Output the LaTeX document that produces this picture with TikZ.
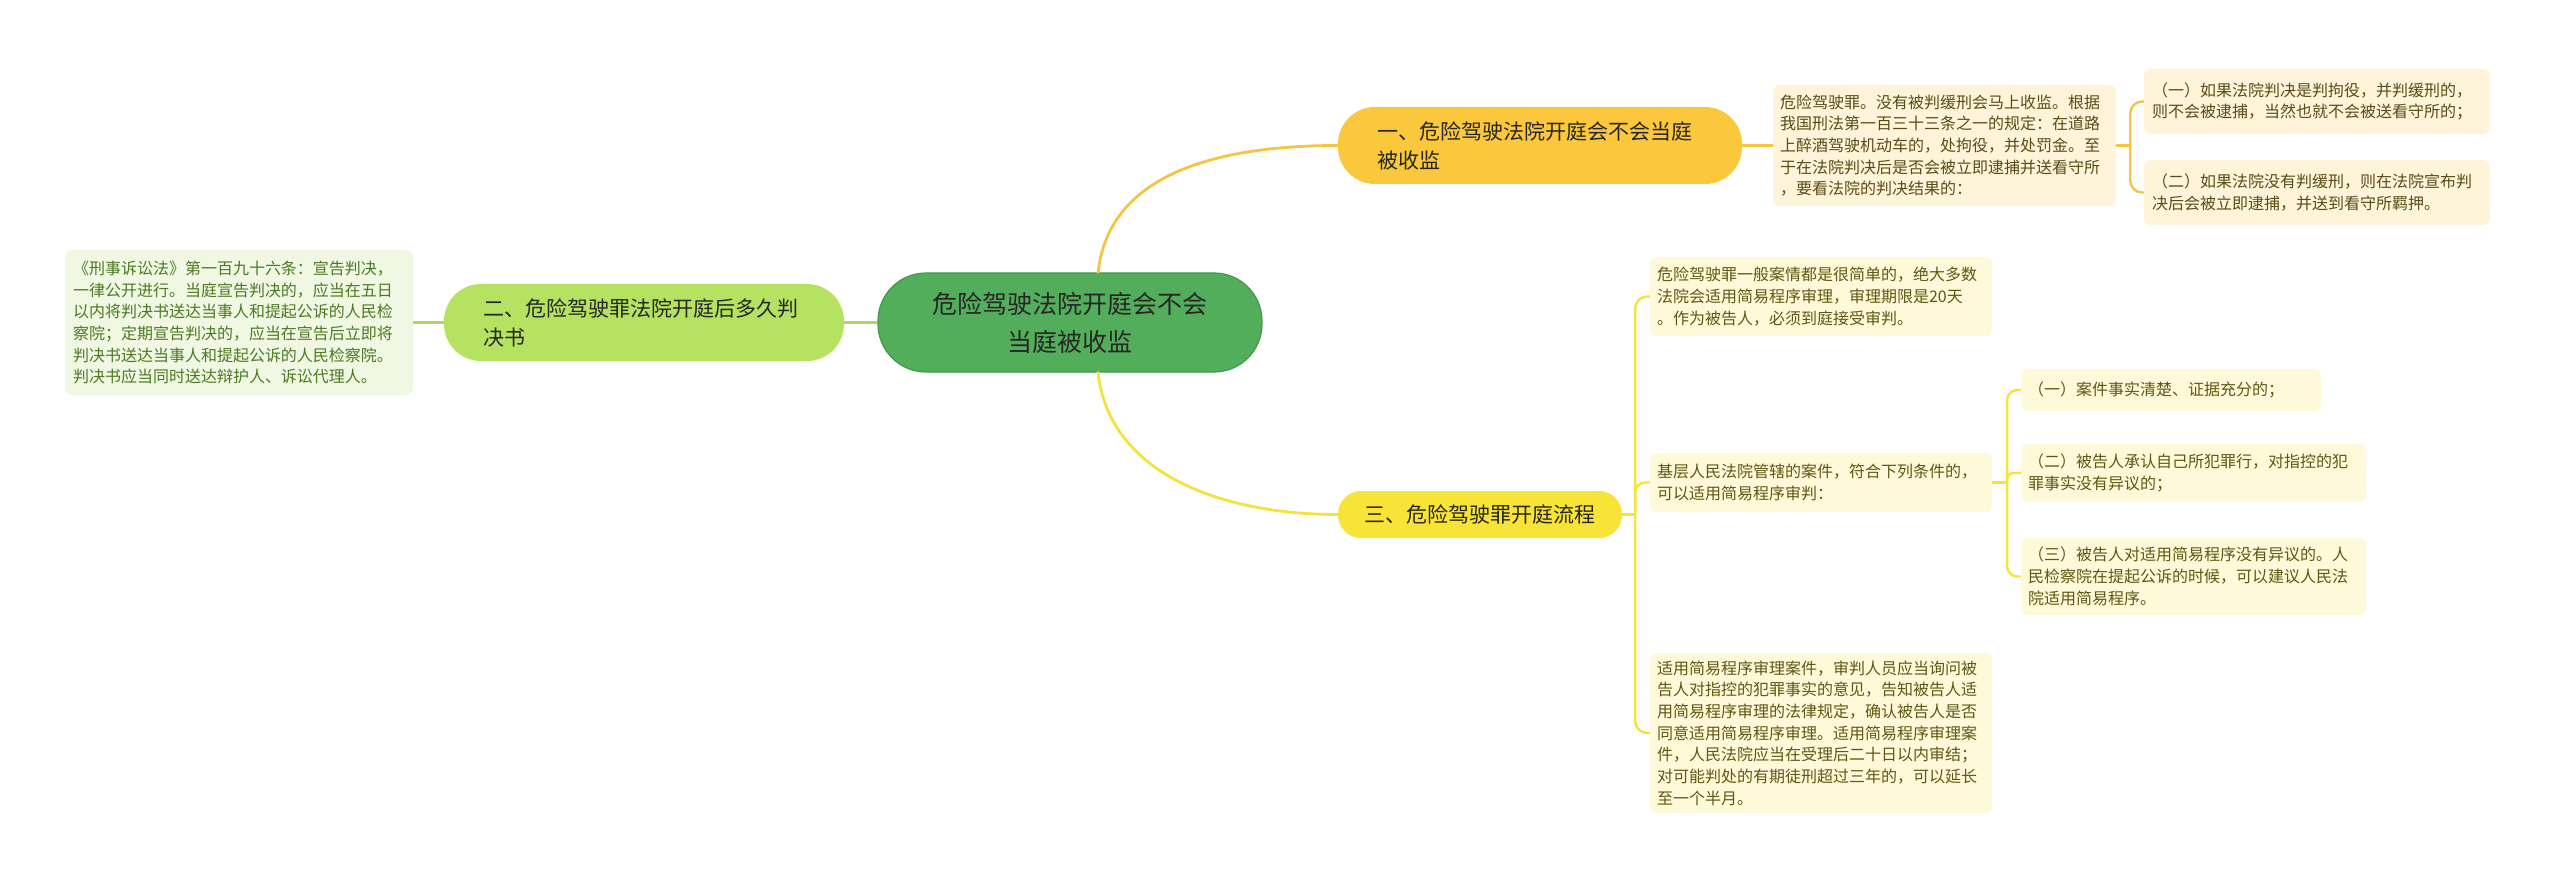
\documentclass[tikz,border=0pt]{standalone}
\usepackage{fontspec}
\setmainfont{Noto Sans CJK SC}
\usetikzlibrary{calc}
\definecolor{ctrfill}{HTML}{52AE5A}
\definecolor{ctrdraw}{HTML}{43994B}
\definecolor{onefill}{HTML}{FBC73D}
\definecolor{twofill}{HTML}{B5E261}
\definecolor{threefill}{HTML}{F8E337}
\definecolor{lineone}{HTML}{F5C443}
\definecolor{linetwo}{HTML}{A9D962}
\definecolor{linethree}{HTML}{F7E13B}
\definecolor{leafonefill}{HTML}{FDF4DA}
\definecolor{leafonetext}{HTML}{5C4B16}
\definecolor{leafthreefill}{HTML}{FEF9D8}
\definecolor{leafthreetext}{HTML}{5E5812}
\definecolor{leaftwofill}{HTML}{F0F7E3}
\definecolor{leaftwotext}{HTML}{4C7A22}
\begin{document}
\begin{tikzpicture}[x=1pt,y=-1pt,
  ctrbox/.style={draw=ctrdraw,line width=1.2pt,fill=ctrfill,rounded corners=48pt,
    minimum width=384pt,minimum height=99pt,align=center,text=black!85,
    font=\fontsize{25}{38}\selectfont,inner sep=0pt},
  mainbox/.style={rounded corners=37pt,inner ysep=0pt,align=left,text=black!85,
    font=\fontsize{21}{29}\selectfont},
  leafbox/.style={rounded corners=7pt,inner ysep=0pt,align=left,
    font=\fontsize{16}{21.7}\selectfont},
  leafone/.style={leafbox,fill=leafonefill,text=leafonetext},
  leafthree/.style={leafbox,fill=leafthreefill,text=leafthreetext},
  leaftwo/.style={leafbox,fill=leaftwofill,text=leaftwotext},
  mainline/.style={line width=2.8pt},
  brline/.style={line width=2.4pt,rounded corners=12pt}
]
\useasboundingbox (0,0) rectangle (2560,885);

% centre
\node[ctrbox] (ctr) at (1070,322.5) {危险驾驶法院开庭会不会\\当庭被收监};

% main branches
\node[mainbox,fill=onefill,text width=326pt,inner xsep=39pt,minimum height=77pt] (n1) at (1540,145.5)
  {一、危险驾驶法院开庭会不会当庭\\被收监};
\node[mainbox,fill=twofill,text width=322pt,inner xsep=39pt,minimum height=77pt] (n2) at (644,322.5)
  {二、危险驾驶罪法院开庭后多久判\\决书};
\node[mainbox,fill=threefill,rounded corners=23pt,align=center,minimum width=284pt,minimum height=47pt,inner xsep=0pt] (n3) at (1480,514.5)
  {三、危险驾驶罪开庭流程};

% branch one leaves
\node[leafone,text width=329pt,inner xsep=7pt,minimum height=121pt] (L1) at (1944.5,145.5)
  {危险驾驶罪。没有被判缓刑会马上收监。根据\\我国刑法第一百三十三条之一的规定：在道路\\上醉酒驾驶机动车的，处拘役，并处罚金。至\\于在法院判决后是否会被立即逮捕并送看守所\\，要看法院的判决结果的：};
\node[leafone,text width=330pt,inner xsep=8pt,minimum height=65pt] (S1) at (2317,101.5)
  {（一）如果法院判决是判拘役，并判缓刑的，\\则不会被逮捕，当然也就不会被送看守所的；};
\node[leafone,text width=330pt,inner xsep=8pt,minimum height=65pt] (S2) at (2317,192.5)
  {（二）如果法院没有判缓刑，则在法院宣布判\\决后会被立即逮捕，并送到看守所羁押。};

% branch two leaf
\node[leaftwo,text width=332pt,inner xsep=8pt,minimum height=145pt] (T1) at (239,322.5)
  {《刑事诉讼法》第一百九十六条：宣告判决，\\一律公开进行。当庭宣告判决的，应当在五日\\以内将判决书送达当事人和提起公诉的人民检\\察院；定期宣告判决的，应当在宣告后立即将\\判决书送达当事人和提起公诉的人民检察院。\\判决书应当同时送达辩护人、诉讼代理人。};

% branch three leaves
\node[leafthree,text width=328pt,inner xsep=7pt,minimum height=79pt] (C1) at (1821,296.5)
  {危险驾驶罪一般案情都是很简单的，绝大多数\\法院会适用简易程序审理，审理期限是20天\\。作为被告人，必须到庭接受审判。};
\node[leafthree,text width=328pt,inner xsep=7pt,minimum height=59pt] (C2) at (1821,482.5)
  {基层人民法院管辖的案件，符合下列条件的，\\可以适用简易程序审判：};
\node[leafthree,text width=328pt,inner xsep=7pt,minimum height=160pt] (C3) at (1821,733)
  {适用简易程序审理案件，审判人员应当询问被\\告人对指控的犯罪事实的意见，告知被告人适\\用简易程序审理的法律规定，确认被告人是否\\同意适用简易程序审理。适用简易程序审理案\\件，人民法院应当在受理后二十日以内审结；\\对可能判处的有期徒刑超过三年的，可以延长\\至一个半月。};
\node[leafthree,text width=286pt,inner xsep=7pt,minimum height=42pt] (G1) at (2171,390)
  {（一）案件事实清楚、证据充分的；};
\node[leafthree,text width=331pt,inner xsep=7pt,minimum height=58pt] (G2) at (2193.5,473)
  {（二）被告人承认自己所犯罪行，对指控的犯\\罪事实没有异议的；};
\node[leafthree,text width=331pt,inner xsep=7pt,minimum height=77pt] (G3) at (2193.5,576.5)
  {（三）被告人对适用简易程序没有异议的。人\\民检察院在提起公诉的时候，可以建议人民法\\院适用简易程序。};

% connectors
\draw[mainline,lineone] ($(ctr.north)+(28,1)$) .. controls +(10,-100) and +(-120,0) .. (n1.west);
\draw[mainline,linethree] ($(ctr.south)+(28,-1)$) .. controls +(10,100) and +(-120,0) .. (n3.west);
\draw[mainline,linetwo] (ctr.west) -- (n2.east);
\draw[brline,linetwo] (n2.west) -- (T1.east);
\draw[brline,lineone] (n1.east) -- (L1.west);
\draw[brline,lineone] (L1.east) -- ++(14,0) coordinate (b1);
\draw[brline,lineone] (b1) |- (S1.west);
\draw[brline,lineone] (b1) |- (S2.west);
\draw[brline,linethree] (n3.east) -- ++(13,0) coordinate (b3);
\draw[brline,linethree] (b3) |- (C1.west);
\draw[brline,linethree,rounded corners=10pt] (b3) |- (C2.west);
\draw[brline,linethree] (b3) |- (C3.west);
\draw[brline,linethree] (C2.east) -- ++(15,0) coordinate (b4);
\draw[brline,linethree,rounded corners=10pt] (b4) |- (G1.west);
\draw[brline,linethree,rounded corners=6pt] (b4) |- (G2.west);
\draw[brline,linethree,rounded corners=10pt] (b4) |- (G3.west);
\end{tikzpicture}
\end{document}
